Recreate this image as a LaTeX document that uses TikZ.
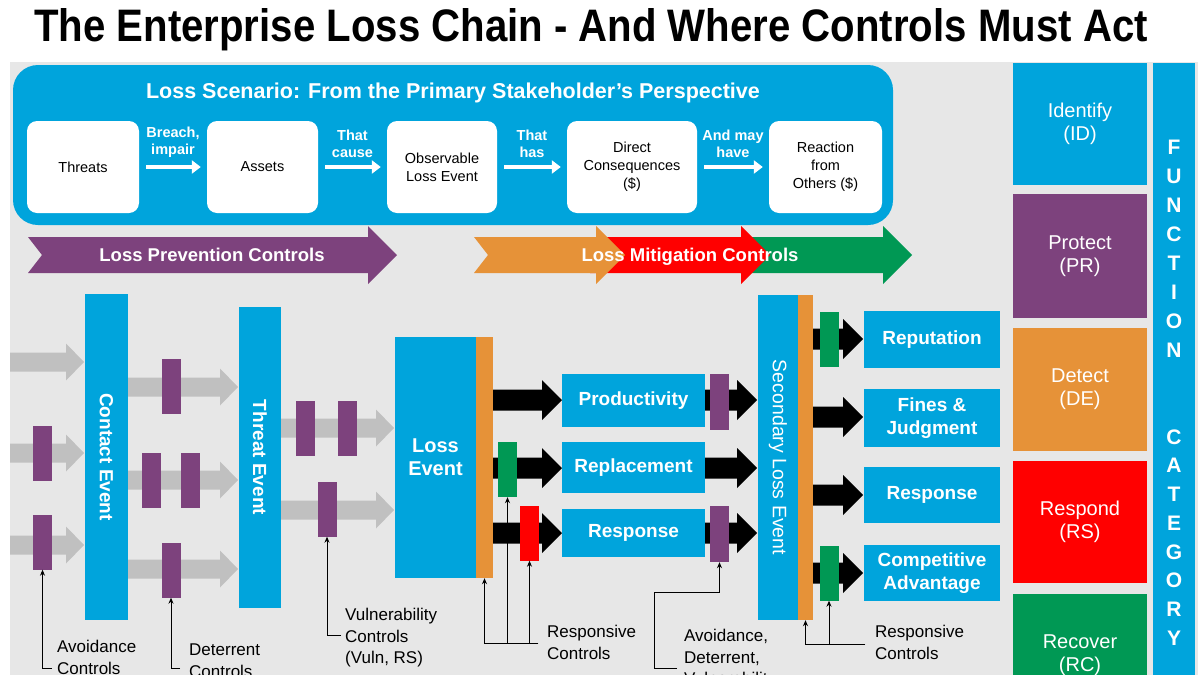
\documentclass[tikz,border=0pt]{standalone}
\usepackage{fontspec}
\setmainfont{Liberation Sans}
\usetikzlibrary{arrows.meta,positioning}

\definecolor{lcblue}{RGB}{0,164,220}
\definecolor{lcpurple}{RGB}{125,66,125}
\definecolor{lcorange}{RGB}{230,146,56}
\definecolor{lcred}{RGB}{255,0,0}
\definecolor{lcgreen}{RGB}{0,152,84}
\definecolor{canvas}{RGB}{231,231,231}
\definecolor{arrgray}{RGB}{192,192,192}

\newcommand{\fs}[2]{\fontsize{#1}{#2}\selectfont}
% grey flow arrow: start x, tip x, centre y
\newcommand{\greyarrow}[3]{%
  \fill[arrgray] (#1,#3-9.5) -- (#2-18,#3-9.5) -- (#2-18,#3-18.5) -- (#2,#3)
    -- (#2-18,#3+18.5) -- (#2-18,#3+9.5) -- (#1,#3+9.5) -- cycle;}
% black consequence arrow: start x, tip x, centre y
\newcommand{\blackarrow}[3]{%
  \fill[black] (#1,#3-10.5) -- (#2-20,#3-10.5) -- (#2-20,#3-20) -- (#2,#3)
    -- (#2-20,#3+20) -- (#2-20,#3+10.5) -- (#1,#3+10.5) -- cycle;}
% notched band arrow: colour, left x, tip x
\newcommand{\bandarrow}[3]{%
  \fill[#1] (#2,237) -- (#3-29,237) -- (#3-29,226) -- (#3,255) -- (#3-29,284)
    -- (#3-29,273) -- (#2,273) -- (#2+14,255) -- cycle;}

\tikzset{
  panel/.style={inner sep=0pt, text=white, align=center},
  scenbox/.style={fill=white, rounded corners=10pt, inner sep=0pt,
    minimum height=92pt, align=center, font=\fs{14.5}{18}},
  scarrow/.style={white, line width=3.5pt, shorten <=7pt, shorten >=6pt,
    -{Triangle[length=9pt,width=13pt]}},
  sclab/.style={text=white, font=\bfseries\fs{14.5}{17}, align=center, inner sep=0pt},
  bandlab/.style={text=white, font=\bfseries\fs{18.5}{22}, inner sep=0pt},
  evbar/.style={panel, fill=lcblue, font=\bfseries\fs{19}{23}},
  strip/.style={fill=lcorange, inner sep=0pt},
  ctrl/.style={fill=#1, inner sep=0pt, minimum width=19pt, minimum height=55pt},
  outbox/.style={panel, fill=lcblue, font=\bfseries\fs{19}{23}},
  catbox/.style={panel, fill=#1, minimum width=134pt, font=\fs{20}{23}},
  catletter/.style={text=white, font=\bfseries\fs{21}{21}, inner sep=0pt},
  annot/.style={line width=0.8pt, -{Stealth[length=6pt,width=5pt]}},
  annotlab/.style={anchor=north west, align=left, font=\fs{17}{21.5}, inner sep=0pt}
}

\begin{document}
\begin{tikzpicture}[x=1pt, y=-1pt, >=Stealth]
  \useasboundingbox (0,0) rectangle (1200,675);
  \clip (0,0) rectangle (1200,675);

  %% Title
  \node[anchor=base, inner sep=0pt] (title) at (591,41)
    {\resizebox{1113pt}{33pt}{\bfseries The Enterprise Loss Chain - And Where Controls Must Act}};

  %% Grey canvas
  \fill[canvas] (10,62) rectangle (1198,675);

  %% Loss scenario panel
  \node[fill=lcblue, rounded corners=25pt, minimum width=880pt, minimum height=160pt,
    inner sep=0pt] (scenario) at (453,145) {};
  \node[text=white, font=\bfseries\fs{21.5}{24}, inner sep=0pt] (scentitle) at (453,93)
    {Loss Scenario: From the Primary Stakeholder’s Perspective};

  \node[scenbox, minimum width=112pt] (threats) at (83,167) {Threats};
  \node[scenbox, minimum width=111pt] (assets) at (262.5,167) {Assets};
  \node[scenbox, minimum width=110pt] (observ) at (442,167) {Observable\\Loss Event};
  \node[scenbox, minimum width=130pt] (direct) at (632,167) {Direct\\Consequences\\(\$)};
  \node[scenbox, minimum width=113pt] (reaction) at (825.5,167) {Reaction\\from\\Others (\$)};

  \draw[scarrow] (threats) -- node[sclab, above=8pt] {Breach,\\impair} (assets);
  \draw[scarrow] (assets) -- node[sclab, above=8pt] {That\\cause} (observ);
  \draw[scarrow] (observ) -- node[sclab, above=8pt] {That\\has} (direct);
  \draw[scarrow] (direct) -- node[sclab, above=8pt] {And may\\have} (reaction);

  %% Control bands
  \bandarrow{lcpurple}{28}{397}
  \bandarrow{lcgreen}{740}{912}
  \bandarrow{lcred}{590}{770}
  \bandarrow{lcorange}{474}{625}
  \node[bandlab] (prevlab) at (212,255) {Loss Prevention Controls};
  \node[bandlab] (mitlab) at (690,257) {Loss Mitigation Controls};

  %% Grey flow arrows
  \foreach \y in {362,453,545} {\greyarrow{10}{84}{\y}}
  \foreach \y in {387,480,569} {\greyarrow{128}{238}{\y}}
  \foreach \y in {428,510} {\greyarrow{281}{394}{\y}}

  %% Black consequence arrows
  \foreach \y in {400,468,533} {
    \blackarrow{493}{562}{\y}
    \blackarrow{705}{757}{\y}
  }
  \foreach \y in {339,417,495,573} {\blackarrow{813}{863}{\y}}

  %% Event bars
  \node[evbar, rotate=-90, minimum width=326pt, minimum height=43pt] (contact) at (106.5,457) {Contact Event};
  \node[evbar, rotate=-90, minimum width=301pt, minimum height=42pt] (threat) at (260,457.5) {Threat Event};
  \node[evbar, font=\bfseries\fs{20}{23}, minimum width=81pt, minimum height=241pt] (loss) at (435.5,457.5) {Loss\\Event};
  \node[strip, minimum width=17pt, minimum height=241pt] (lstrip) at (484.5,457.5) {};
  \node[evbar, font=\fs{19.5}{23}, rotate=-90, minimum width=325pt, minimum height=40pt] (second) at (778,457.5) {Secondary Loss Event};
  \node[strip, minimum width=15pt, minimum height=325pt] (sstrip) at (805.5,457.5) {};

  %% Direct consequence boxes
  \node[outbox, minimum width=143pt, minimum height=53pt] (prod) at (633.5,400.5) {Productivity};
  \node[outbox, minimum width=143pt, minimum height=51pt] (repl) at (633.5,467.5) {Replacement};
  \node[outbox, minimum width=143pt, minimum height=48pt] (resp) at (633.5,533) {Response};

  %% Secondary consequence boxes
  \node[outbox, minimum width=136pt, minimum height=57pt] (reput) at (932,339.5) {Reputation};
  \node[outbox, minimum width=136pt, minimum height=58pt] (fines) at (932,418) {Fines \&\\Judgment};
  \node[outbox, minimum width=136pt, minimum height=56pt] (sresp) at (932,495) {Response};
  \node[outbox, minimum width=136pt, minimum height=56pt] (compet) at (932,573) {Competitive\\Advantage};

  %% Control boxes
  \node[ctrl=lcpurple] (av1) at (42.5,453) {};
  \node[ctrl=lcpurple] (av2) at (42.5,542) {};
  \node[ctrl=lcpurple] (dt1) at (171,386.5) {};
  \node[ctrl=lcpurple] (dt2a) at (151,480.5) {};
  \node[ctrl=lcpurple] (dt2b) at (190,480.5) {};
  \node[ctrl=lcpurple] (dt3) at (171,570) {};
  \node[ctrl=lcpurple] (vu1a) at (305,428) {};
  \node[ctrl=lcpurple] (vu1b) at (347,428) {};
  \node[ctrl=lcpurple] (vu2) at (327,509) {};
  \node[ctrl=lcgreen] (gc1) at (507.5,469.5) {};
  \node[ctrl=lcred] (rc1) at (529.5,533) {};
  \node[ctrl=lcpurple, minimum height=56pt] (pp1) at (719.5,402) {};
  \node[ctrl=lcpurple, minimum height=56pt] (pp2) at (719.5,534) {};
  \node[ctrl=lcgreen] (gs1) at (829,339.5) {};
  \node[ctrl=lcgreen] (gs2) at (829,573) {};

  %% Annotations
  \node[annotlab] (avlab) at (57,640) {Avoidance\\Controls};
  \coordinate (avend) at (52,668);
  \draw[annot] (avend) -| (av2.south);

  \node[annotlab] (dtlab) at (189,644) {Deterrent\\Controls};
  \coordinate (dtend) at (180,668);
  \draw[annot] (dtend) -| (dt3.south);

  \node[annotlab] (vulab) at (345,608) {Vulnerability\\Controls\\(Vuln, RS)};
  \coordinate (vuend) at (341,635);
  \draw[annot] (vuend) -| (vu2.south);

  \node[annotlab] (rslab) at (547,625) {Responsive\\Controls};
  \coordinate (rsend) at (538,643);
  \draw[annot] (rsend) -| (lstrip.south);
  \draw[annot] (rsend) -| (gc1.south);
  \draw[annot] (rsend) -| (rc1.south);

  \node[annotlab] (adlab) at (684,629) {Avoidance,\\Deterrent,\\Vulnerability};
  \coordinate (adend) at (677,668);
  \coordinate (adknee) at (654,592);
  \draw[annot] (adend) -| (adknee) -| (pp2.south);

  \node[annotlab] (srlab) at (875,625) {Responsive\\Controls};
  \coordinate (srend) at (865,644);
  \draw[annot] (srend) -| (sstrip.south);
  \draw[annot] (srend) -| (gs2.south);

  %% Function categories
  \node[catbox=lcblue, minimum height=122pt] (ident) at (1080,124) {Identify\\(ID)};
  \node[catbox=lcpurple, minimum height=124pt] (prot) at (1080,256) {Protect\\(PR)};
  \node[catbox=lcorange, minimum height=123pt] (detect) at (1080,389.5) {Detect\\(DE)};
  \node[catbox=lcred, minimum height=122pt] (respond) at (1080,522) {Respond\\(RS)};
  \node[catbox=lcgreen, minimum height=123pt] (recover) at (1080,655.5) {Recover\\(RC)};

  \node[fill=lcblue, minimum width=42pt, minimum height=640pt, inner sep=0pt] (funccol) at (1174,383) {};
  \foreach \ch [count=\i from 0] in {F,U,N,C,T,I,O,N}
    \node[catletter] (fn\i) at (1174,147+29*\i) {\ch};
  \foreach \ch [count=\i from 0] in {C,A,T,E,G,O,R,Y}
    \node[catletter] (cg\i) at (1174,437+28.7*\i) {\ch};
\end{tikzpicture}
\end{document}
